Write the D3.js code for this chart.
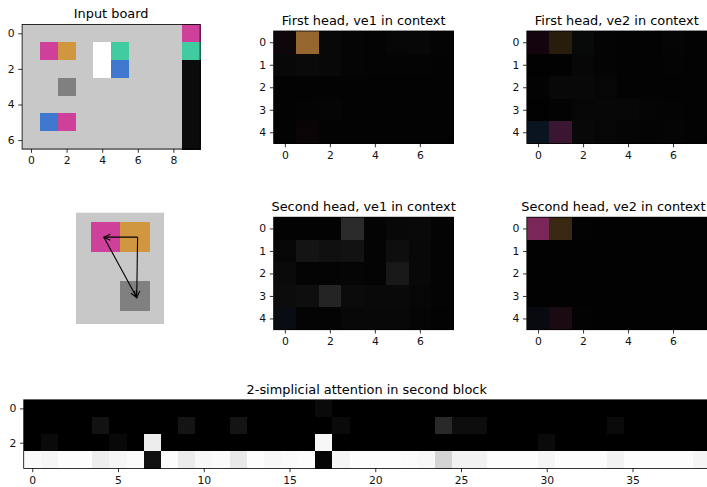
<!DOCTYPE html>
<html>
<head>
<meta charset="utf-8">
<script src="https://cdn.jsdelivr.net/npm/d3@7"></script>
<style>
  html, body { margin: 0; padding: 0; background: #fff; overflow: hidden; }
  svg { display: block; font-family: "DejaVu Sans", sans-serif; }
</style>
</head>
<body>
<svg id="fig" width="707" height="487"></svg>
<script>
// ---- Input board: object code per cell (7 rows x 10 columns) ----
// 0 empty, 1 wall, 2 magenta, 3 orange, 4 teal, 5 blue, 6 grey, 7 white
const boardCodes = [
  [0, 0, 0, 0, 0, 0, 0, 0, 0, 2],
  [0, 2, 3, 0, 7, 4, 0, 0, 0, 4],
  [0, 0, 0, 0, 7, 5, 0, 0, 0, 1],
  [0, 0, 6, 0, 0, 0, 0, 0, 0, 1],
  [0, 0, 0, 0, 0, 0, 0, 0, 0, 1],
  [0, 5, 2, 0, 0, 0, 0, 0, 0, 1],
  [0, 0, 0, 0, 0, 0, 0, 0, 0, 1]
];
const boardXTicks = [0, 2, 4, 6, 8];
const boardYTicks = [0, 2, 4, 6];

// ---- Attention maps in context (RGB per cell, 5 rows x 8 columns) ----
const firstHeadVe1 = [
  [[14, 6, 11], [150, 104, 48], [8, 8, 8], [5, 5, 5], [4, 4, 4], [6, 6, 6], [7, 7, 7], [4, 4, 4]],
  [[8, 8, 8], [10, 10, 10], [8, 8, 8], [5, 5, 5], [4, 4, 4], [4, 4, 4], [4, 4, 4], [3, 3, 3]],
  [[3, 3, 3], [3, 3, 3], [3, 3, 3], [3, 3, 3], [3, 3, 3], [3, 3, 3], [3, 3, 3], [3, 3, 3]],
  [[3, 3, 3], [4, 4, 4], [5, 5, 5], [3, 3, 3], [3, 3, 3], [3, 3, 3], [3, 3, 3], [3, 3, 3]],
  [[3, 3, 3], [10, 4, 6], [3, 3, 3], [3, 3, 3], [3, 3, 3], [3, 3, 3], [3, 3, 3], [3, 3, 3]]
];
const firstHeadVe2 = [
  [[20, 4, 14], [40, 28, 12], [8, 9, 9], [4, 4, 4], [3, 3, 3], [3, 3, 3], [5, 5, 5], [3, 3, 3]],
  [[2, 2, 2], [2, 2, 2], [7, 7, 7], [4, 4, 4], [3, 3, 3], [3, 3, 3], [4, 4, 4], [3, 3, 3]],
  [[3, 3, 3], [8, 8, 8], [8, 8, 8], [6, 6, 6], [3, 3, 3], [3, 3, 3], [3, 3, 3], [3, 3, 3]],
  [[2, 2, 2], [3, 3, 3], [6, 6, 6], [7, 7, 7], [7, 7, 7], [5, 5, 5], [4, 4, 4], [3, 3, 3]],
  [[10, 20, 32], [58, 22, 48], [8, 8, 8], [6, 6, 6], [5, 5, 5], [4, 4, 4], [5, 5, 5], [3, 3, 3]]
];
const secondHeadVe1 = [
  [[3, 3, 3], [3, 3, 3], [3, 3, 3], [42, 42, 42], [4, 4, 4], [8, 8, 8], [9, 9, 9], [4, 4, 4]],
  [[6, 6, 6], [20, 20, 20], [16, 16, 16], [18, 18, 18], [4, 4, 4], [14, 14, 14], [8, 8, 8], [4, 4, 4]],
  [[10, 10, 10], [4, 4, 4], [4, 4, 4], [5, 5, 5], [4, 4, 4], [24, 24, 24], [8, 8, 8], [4, 4, 4]],
  [[12, 12, 12], [14, 14, 14], [36, 36, 36], [11, 11, 11], [9, 9, 9], [9, 9, 9], [6, 6, 6], [4, 4, 4]],
  [[10, 12, 20], [4, 4, 4], [4, 4, 4], [8, 8, 8], [8, 8, 8], [8, 8, 8], [5, 5, 5], [3, 3, 3]]
];
const secondHeadVe2 = [
  [[122, 38, 88], [56, 40, 18], [3, 3, 3], [2, 2, 2], [2, 2, 2], [2, 2, 2], [2, 2, 2], [2, 2, 2]],
  [[2, 2, 2], [2, 2, 2], [2, 2, 2], [2, 2, 2], [2, 2, 2], [2, 2, 2], [2, 2, 2], [2, 2, 2]],
  [[2, 2, 2], [2, 2, 2], [2, 2, 2], [2, 2, 2], [2, 2, 2], [2, 2, 2], [2, 2, 2], [2, 2, 2]],
  [[2, 2, 2], [2, 2, 2], [2, 2, 2], [2, 2, 2], [2, 2, 2], [2, 2, 2], [2, 2, 2], [2, 2, 2]],
  [[8, 10, 16], [26, 10, 18], [3, 3, 3], [2, 2, 2], [2, 2, 2], [2, 2, 2], [2, 2, 2], [2, 2, 2]]
];
const headXTicks = [0, 2, 4, 6];
const headYTicks = [0, 1, 2, 3, 4];

// ---- Relation sketch: cells and arrows (board coordinates) ----
const sketchExtentX = [0, 3];
const sketchExtentY = [0.17, 3.95];
const sketchCells = [
  { col: 1, row: 1, code: 2 },
  { col: 2, row: 1, code: 3 },
  { col: 2, row: 3, code: 6 }
];
const sketchArrows = [
  { from: [2.1, 1.0], to: [0.95, 1.0] },
  { from: [2.1, 1.0], to: [2.07, 3.05] },
  { from: [0.95, 1.0], to: [2.07, 3.05] }
];

// ---- 2-simplicial attention in second block (4 rows x 40 columns) ----
const simplicialRow0 = [0, 0, 0, 0, 0, 0, 0, 0, 0, 0, 0, 0, 0, 0, 0, 0, 0, 0.04, 0, 0,
  0, 0, 0, 0, 0, 0, 0, 0, 0, 0, 0, 0, 0, 0, 0, 0, 0, 0, 0, 0];
const simplicialRow1 = [0, 0, 0, 0, 0.07, 0, 0, 0, 0, 0.08, 0, 0, 0.08, 0, 0, 0, 0, 0, 0.04, 0,
  0, 0, 0, 0, 0.16, 0.05, 0.05, 0, 0, 0, 0, 0, 0, 0, 0.04, 0, 0, 0, 0, 0];
const simplicialRow2 = [0, 0.04, 0, 0, 0, 0.03, 0, 0.93, 0, 0, 0, 0, 0, 0, 0, 0, 0, 0.97, 0, 0,
  0, 0, 0, 0, 0, 0, 0, 0, 0, 0, 0.04, 0, 0, 0, 0, 0, 0, 0, 0, 0];
const simplicialRow3 = [0.98, 0.96, 0.99, 0.99, 0.93, 0.96, 0.98, 0.06, 0.99, 0.92,
  0.97, 0.98, 0.91, 0.99, 0.97, 0.98, 0.99, 0.02, 0.96, 0.99,
  0.99, 0.99, 0.98, 0.97, 0.83, 0.95, 0.95, 0.99, 0.99, 0.99,
  0.96, 0.99, 0.99, 0.99, 0.95, 0.99, 0.99, 0.99, 0.99, 0.96];
const simplicialXTicks = [0, 5, 10, 15, 20, 25, 30, 35];
const simplicialYTicks = [0, 2];

// ---- Styling ----
const objectColors = ["#c8c8c8", "#0b0b0b", "#cf409a", "#d09640", "#40cca0", "#4078d0", "#808080", "#ffffff"];
const objectColor = d3.scaleOrdinal().domain(d3.range(objectColors.length)).range(objectColors);
const rgb = v => d3.rgb(v[0], v[1], v[2]).toString();
const grey = d3.scaleLinear().domain([0, 1]).range(["#000000", "#ffffff"]);
const TITLE_SIZE = 12.9, TICK_SIZE = 10.8, TICK_LEN = 3.8;
const FIG_WIDTH = 707;

const svg = d3.select("#fig");

// Draws an image-style grid panel with ticks, frame and title.
function gridPanel({ left, top, cell, grid, color, xTicks, yTicks, title }) {
  const rows = grid.length, cols = grid[0].length;
  const x = d3.scaleLinear().domain([-0.5, cols - 0.5]).range([left, left + cols * cell]);
  const y = d3.scaleLinear().domain([-0.5, rows - 0.5]).range([top, top + rows * cell]);
  const g = svg.append("g");

  const cells = [];
  grid.forEach((row, r) => row.forEach((v, c) => cells.push({ r, c, v })));
  g.append("g").attr("shape-rendering", "crispEdges")
    .selectAll("rect").data(cells).join("rect")
    .attr("x", d => x(d.c - 0.5))
    .attr("y", d => y(d.r - 0.5))
    .attr("width", x(0.5) - x(-0.5) + 0.5)
    .attr("height", y(0.5) - y(-0.5) + 0.5)
    .attr("fill", d => color(d.v));

  const xa = g.append("g")
    .attr("transform", `translate(0,${y.range()[1]})`)
    .call(d3.axisBottom(x).tickValues(xTicks).tickFormat(d3.format("d")).tickSize(TICK_LEN).tickPadding(4));
  const ya = g.append("g")
    .attr("transform", `translate(${x.range()[0]},0)`)
    .call(d3.axisLeft(y).tickValues(yTicks).tickFormat(d3.format("d")).tickSize(TICK_LEN).tickPadding(3.6));
  [xa, ya].forEach(a => {
    a.select(".domain").remove();
    a.attr("font-family", "DejaVu Sans").attr("font-size", TICK_SIZE);
    a.selectAll("line").attr("stroke", "#000").attr("stroke-width", 0.8);
    a.selectAll("text").attr("fill", "#111");
  });

  g.append("rect")
    .attr("x", x.range()[0]).attr("y", y.range()[0])
    .attr("width", x.range()[1] - x.range()[0])
    .attr("height", y.range()[1] - y.range()[0])
    .attr("fill", "none").attr("stroke", "#000").attr("stroke-width", 0.8);

  const t = g.append("text")
    .attr("x", (x.range()[0] + x.range()[1]) / 2)
    .attr("y", top - 6)
    .attr("text-anchor", "middle")
    .attr("font-size", TITLE_SIZE)
    .attr("fill", "#000")
    .text(title);
  // keep titles of the right-hand panels inside the figure
  const box = t.node().getBBox();
  const overflow = box.x + box.width - (FIG_WIDTH - 1.5);
  if (overflow > 0) t.attr("x", +t.attr("x") - overflow);
}

gridPanel({ left: 22.1, top: 24.4, cell: 17.8, grid: boardCodes, color: objectColor,
  xTicks: boardXTicks, yTicks: boardYTicks, title: "Input board" });
gridPanel({ left: 273.6, top: 31, cell: 22.5, grid: firstHeadVe1, color: rgb,
  xTicks: headXTicks, yTicks: headYTicks, title: "First head, ve1 in context" });
gridPanel({ left: 526.8, top: 31, cell: 22.5, grid: firstHeadVe2, color: rgb,
  xTicks: headXTicks, yTicks: headYTicks, title: "First head, ve2 in context" });
gridPanel({ left: 273.6, top: 217.2, cell: 22.5, grid: secondHeadVe1, color: rgb,
  xTicks: headXTicks, yTicks: headYTicks, title: "Second head, ve1 in context" });
gridPanel({ left: 526.8, top: 217.2, cell: 22.5, grid: secondHeadVe2, color: rgb,
  xTicks: headXTicks, yTicks: headYTicks, title: "Second head, ve2 in context" });
gridPanel({ left: 23.7, top: 399.8, cell: 17.15,
  grid: [simplicialRow0, simplicialRow1, simplicialRow2, simplicialRow3], color: grey,
  xTicks: simplicialXTicks, yTicks: simplicialYTicks, title: "2-simplicial attention in second block" });

// ---- Relation sketch ----
(function () {
  const sx = d3.scaleLinear().domain(sketchExtentX).range([76, 164]);
  const sy = d3.scaleLinear().domain(sketchExtentY).range([212.7, 324]);
  const g = svg.append("g");
  g.append("rect")
    .attr("x", sx(sketchExtentX[0])).attr("y", sy(sketchExtentY[0]))
    .attr("width", sx(sketchExtentX[1]) - sx(sketchExtentX[0]))
    .attr("height", sy(sketchExtentY[1]) - sy(sketchExtentY[0]))
    .attr("fill", objectColor(0));
  g.append("g").attr("shape-rendering", "crispEdges")
    .selectAll("rect").data(sketchCells).join("rect")
    .attr("x", d => sx(d.col - 0.5)).attr("y", d => sy(d.row - 0.5))
    .attr("width", sx(1) - sx(0) + 0.5).attr("height", sy(1) - sy(0))
    .attr("fill", d => objectColor(d.code));

  svg.append("defs").append("marker")
    .attr("id", "openhead")
    .attr("markerUnits", "userSpaceOnUse")
    .attr("viewBox", "-8 -5 10 10")
    .attr("refX", 0).attr("refY", 0)
    .attr("markerWidth", 10).attr("markerHeight", 10)
    .attr("orient", "auto")
    .append("path")
    .attr("d", "M-6.5,-3L0,0L-6.5,3")
    .attr("fill", "none").attr("stroke", "#000").attr("stroke-width", 1.1);

  g.selectAll("line.arrow").data(sketchArrows).join("line")
    .attr("class", "arrow")
    .attr("x1", d => sx(d.from[0])).attr("y1", d => sy(d.from[1]))
    .attr("x2", d => sx(d.to[0])).attr("y2", d => sy(d.to[1]))
    .attr("stroke", "#000").attr("stroke-width", 1.1)
    .attr("marker-end", "url(#openhead)");
})();
</script>
</body>
</html>
